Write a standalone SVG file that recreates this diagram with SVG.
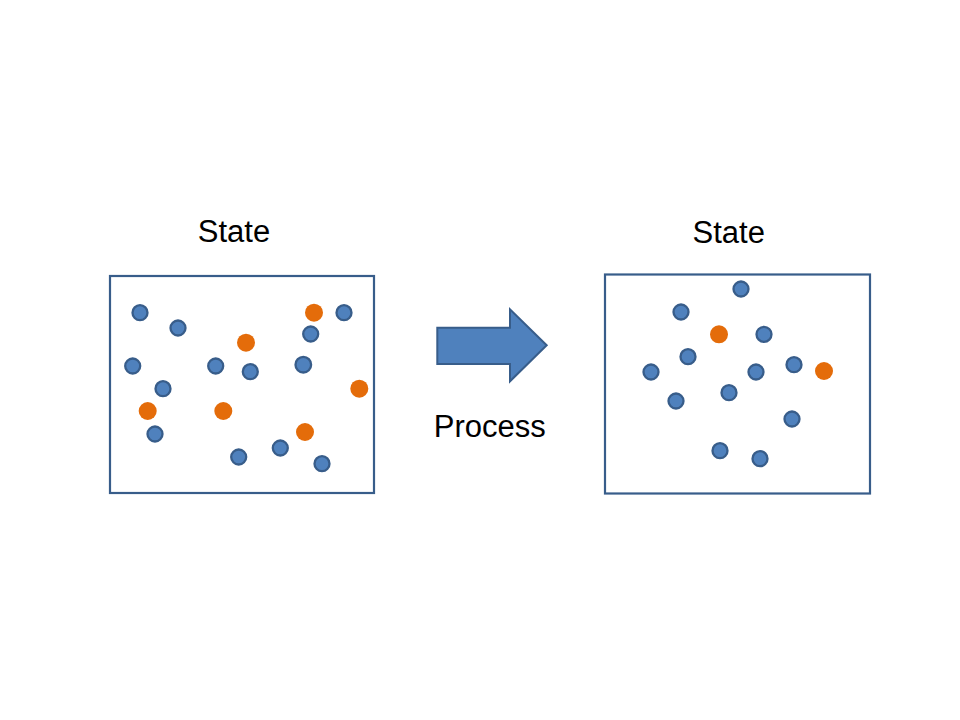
<svg xmlns="http://www.w3.org/2000/svg" width="960" height="720" viewBox="0 0 960 720">
<style>
.box{fill:#fff;stroke:#385D8A;stroke-width:2.2}
.b{fill:#4F81BD;stroke:#385D8A;stroke-width:2.3}
.o{fill:#E46C0A}
.t{font-family:"Liberation Sans",Arial,sans-serif;font-size:31px;fill:#000;text-anchor:middle}
</style>
<rect width="960" height="720" fill="#fff"/>
<g id="state-left">
<text class="t" x="234" y="242">State</text>
<rect class="box" x="110" y="276" width="264" height="217"/>
<g>
<circle class="b" cx="140" cy="312.7" r="7.5"/>
<circle class="b" cx="178" cy="328" r="7.5"/>
<circle class="o" cx="314" cy="312.7" r="9"/>
<circle class="b" cx="344" cy="312.7" r="7.5"/>
<circle class="b" cx="310.7" cy="334" r="7.5"/>
<circle class="o" cx="246" cy="342.7" r="9"/>
<circle class="b" cx="132.7" cy="366" r="7.5"/>
<circle class="b" cx="215.7" cy="366" r="7.5"/>
<circle class="b" cx="250.3" cy="371.7" r="7.5"/>
<circle class="b" cx="303.3" cy="364.7" r="7.8"/>
<circle class="b" cx="163" cy="388.7" r="7.5"/>
<circle class="o" cx="359.3" cy="388.7" r="9"/>
<circle class="o" cx="147.7" cy="411" r="9"/>
<circle class="o" cx="223.3" cy="411" r="9"/>
<circle class="b" cx="155" cy="434" r="7.5"/>
<circle class="o" cx="305" cy="432" r="9"/>
<circle class="b" cx="280.3" cy="448" r="7.5"/>
<circle class="b" cx="238.7" cy="457" r="7.5"/>
<circle class="b" cx="322" cy="463.7" r="7.5"/>
</g>
</g>
<g id="process">
<polygon points="437.3,327.7 510,327.7 510,309.3 546.7,345.3 510,381.3 510,364 437.3,364" fill="#4F81BD" stroke="#385D8A" stroke-width="2"/>
<text class="t" x="489.7" y="437.3">Process</text>
</g>
<g id="state-right">
<text class="t" x="728.7" y="243">State</text>
<rect class="box" x="605" y="274.5" width="265" height="219"/>
<g>
<circle class="b" cx="741" cy="289" r="7.5"/>
<circle class="b" cx="681" cy="312" r="7.5"/>
<circle class="o" cx="719" cy="334.3" r="9"/>
<circle class="b" cx="764" cy="334.3" r="7.5"/>
<circle class="b" cx="688" cy="356.7" r="7.5"/>
<circle class="b" cx="651" cy="372" r="7.5"/>
<circle class="b" cx="756" cy="372" r="7.5"/>
<circle class="b" cx="794" cy="364.7" r="7.5"/>
<circle class="o" cx="824" cy="371" r="9"/>
<circle class="b" cx="729" cy="392.7" r="7.5"/>
<circle class="b" cx="676" cy="401" r="7.5"/>
<circle class="b" cx="792" cy="419" r="7.5"/>
<circle class="b" cx="720" cy="450.7" r="7.5"/>
<circle class="b" cx="760" cy="458.7" r="7.5"/>
</g>
</g>
<g id="connectors"></g>
</svg>
